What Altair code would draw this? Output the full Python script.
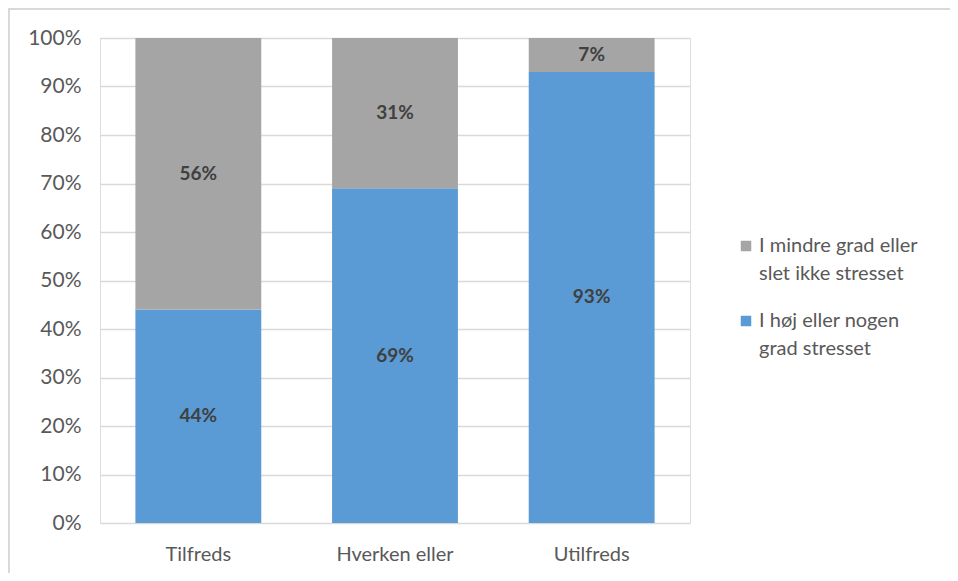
import altair as alt
import pandas as pd

categories = ["Tilfreds", "Hverken eller", "Utilfreds"]
series = ["I mindre grad eller|slet ikke stresset", "I høj eller nogen|grad stresset"]
low_stress = [56, 31, 7]
high_stress = [44, 69, 93]
colors = ["#A5A5A5", "#5B9BD5"]

rows = []
for i, c in enumerate(categories):
    rows.append({"cat": c, "series": series[1], "value": high_stress[i] / 100, "ord": 0})
    rows.append({"cat": c, "series": series[0], "value": low_stress[i] / 100, "ord": 1})
df = pd.DataFrame(rows)

FONT = "Lato"
W, H = 590, 485

base = alt.Chart(df).transform_stack(
    stack="value", groupby=["cat"], as_=["y0", "y1"], sort=[alt.SortField("ord")]
).transform_calculate(mid="(datum.y0 + datum.y1) / 2")

x = alt.X("cat:N", sort=categories, title=None,
          scale=alt.Scale(paddingInner=0.36, paddingOuter=0.18),
          axis=alt.Axis(labelAngle=0, labelFont=FONT, labelFontSize=20, labelColor="#595959",
                        labelPadding=21, ticks=False, domain=False))

bars = base.mark_bar().encode(
    x=x,
    y=alt.Y("y0:Q", title=None, scale=alt.Scale(domain=[0, 1]),
            axis=alt.Axis(format=".0%", values=[i / 10 for i in range(11)],
                          labelFont=FONT, labelFontSize=21, labelColor="#595959",
                          labelPadding=19, ticks=False, domain=False,
                          grid=True, gridColor="#d9d9d9", gridWidth=1.5)),
    y2="y1:Q",
    color=alt.Color("series:N", scale=alt.Scale(domain=series, range=colors),
                    legend=alt.Legend(title=None, orient="none", legendX=636, legendY=198,
                                      symbolType="square", symbolSize=110, symbolStrokeWidth=0,
                                      labelFont=FONT, labelFontSize=20, labelColor="#595959",
                                      labelExpr="split(datum.label, '|')", labelBaseline="middle",
                                      labelOffset=3, rowPadding=27, labelLimit=300)),
)

labels = base.mark_text(font=FONT, fontSize=19, fontWeight="bold", color="#404040").encode(
    x=alt.X("cat:N", sort=categories),
    y=alt.Y("mid:Q"),
    text=alt.Text("value:Q", format=".0%"),
)

border = alt.Chart(pd.DataFrame({"a": [0]})).mark_rect(
    filled=False, stroke="#d9d9d9", strokeWidth=2
).encode(x=alt.value(-91), x2=alt.value(W + 400), y=alt.value(-29), y2=alt.value(H + 200))

chart = alt.layer(bars, labels, border).properties(
    width=W, height=H,
    autosize=alt.AutoSizeParams(type="none"),
    padding={"left": 92, "top": 30, "right": 260, "bottom": 50},
).configure_view(stroke=None).configure(style={"guide-label": {"lineHeight": 28}})

chart.save("out.html", embed_options={"renderer": "svg", "actions": False})
